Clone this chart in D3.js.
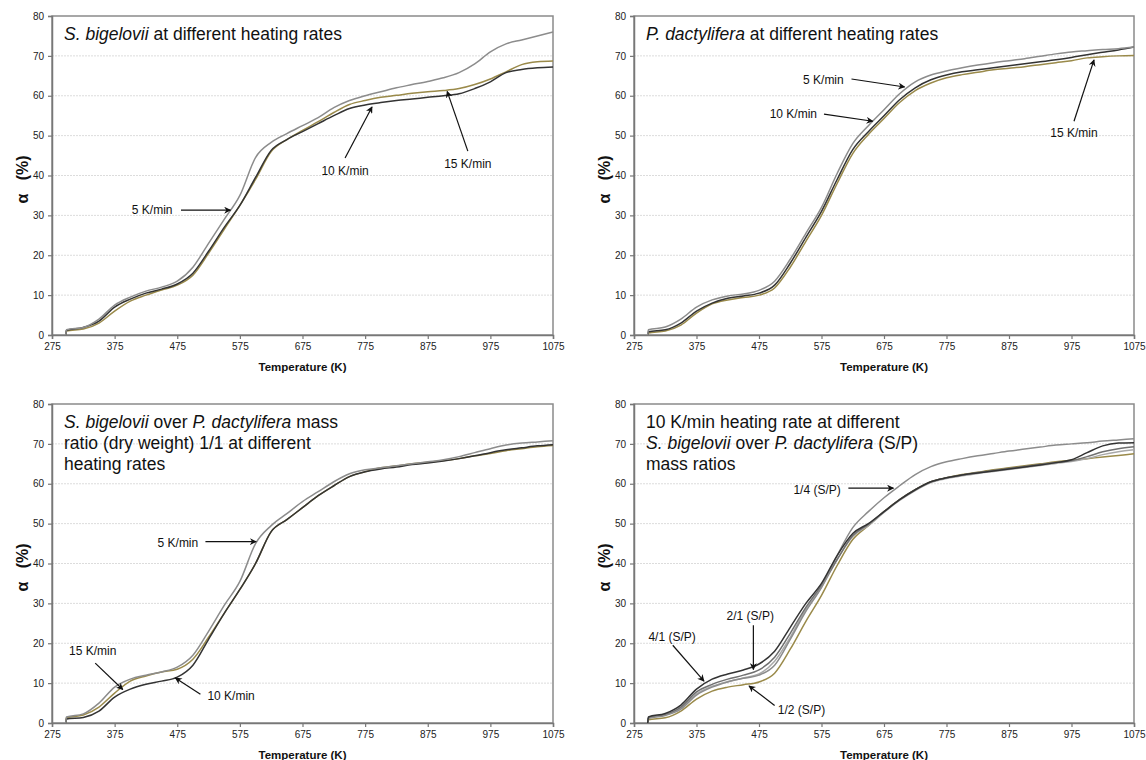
<!doctype html>
<head>
  <meta charset="utf-8">
  <script src="https://cdnjs.cloudflare.com/ajax/libs/d3/7.8.2/d3.min.js"></script>
</head>
<style>
    body { margin: 0; background: #fff; }
    svg { font-family: "Liberation Sans", Arial, sans-serif; }
</style>
<body>
<div id="chart"></div>
<script>
    // temperature grid (K) shared by all curves
    const temps = [297, 298, 325, 350, 375, 400, 425, 450, 475, 500, 525, 550, 575, 600, 625, 650, 675, 700, 725, 750, 775, 800, 825, 850, 875, 900, 925, 950, 975, 1000, 1025, 1050, 1075];
    const xTicks = [275, 375, 475, 575, 675, 775, 875, 975, 1075];
    const yTicks = [0, 10, 20, 30, 40, 50, 60, 70, 80];

    // panel 1: S. bigelovii
    const sb5 = [0, 1.3, 1.9, 4, 7.5, 9.5, 11, 12, 13.5, 17, 23, 29, 35, 44.5, 48.3, 50.5, 52.5, 54.5, 57, 58.8, 60, 61, 62, 62.8, 63.6, 64.5, 65.8, 68, 71, 73, 74, 75, 76];
    const sb10 = [0, 1.2, 1.9, 3.5, 7, 9, 10.5, 11.5, 12.8, 15.5, 21, 27, 32.5, 39.5, 46.3, 49, 51, 53, 55, 56.8, 57.7, 58.3, 58.8, 59.2, 59.6, 60, 60.5, 61.8, 63.5, 65.8, 66.6, 67, 67.2];
    const sb15 = [0, 1, 1.5, 3, 6, 8.5, 10, 11.3, 12.5, 15, 20.5, 26.5, 32.5, 39, 46, 49, 51.3, 53.5, 55.8, 57.8, 58.8, 59.6, 60.1, 60.6, 61, 61.3, 61.8, 62.8, 64.2, 66, 67.8, 68.5, 68.7];

    // panel 2: P. dactylifera
    const pd5 = [0, 1.3, 2, 4, 7, 8.8, 9.8, 10.3, 11.2, 13.5, 19, 25.5, 32, 40.5, 48, 52.5, 56.5, 60.5, 63.5, 65.2, 66.2, 67, 67.7, 68.3, 68.8, 69.3, 69.9, 70.5, 71, 71.3, 71.6, 71.8, 72.2];
    const pd10 = [0, 0.8, 1.3, 3, 6, 8, 9.2, 9.8, 10.5, 12.5, 18, 24.5, 31, 39, 46.5, 51, 55, 59, 62, 64, 65.2, 66, 66.5, 67, 67.5, 68, 68.5, 69, 69.6, 70.3, 70.9, 71.5, 72.2];
    const pd15 = [0, 0.5, 1, 2.5, 5.5, 7.8, 8.8, 9.4, 10, 11.8, 17, 23.5, 30, 38, 45.5, 50.3, 54.3, 58.3, 61.3, 63.2, 64.5, 65.3, 65.9, 66.5, 66.9, 67.3, 67.8, 68.3, 68.8, 69.5, 69.8, 70, 70.1];

    // panel 3: mix 1/1
    const mx5 = [0, 1.5, 2.3, 5, 9, 11, 12, 12.8, 14, 17, 23, 29.5, 35.5, 45, 49.5, 52.5, 55.5, 58, 60.5, 62.5, 63.5, 64, 64.5, 65, 65.5, 66, 66.8, 67.8, 68.8, 69.7, 70.2, 70.5, 70.8];
    const mx10 = [0, 1, 1.4, 3, 6.5, 8.5, 9.7, 10.5, 11.5, 14.5, 21, 27.5, 33.5, 40, 48, 51, 54, 57, 59.5, 61.8, 63, 63.7, 64.2, 64.8, 65.2, 65.7, 66.3, 67, 67.8, 68.5, 69, 69.5, 69.8];
    const mx15 = [0, 1.3, 2, 4, 7.5, 10.5, 11.8, 12.8, 13.5, 16, 21.5, 27.5, 33.5, 40, 48, 51, 54, 57, 59.5, 61.8, 63, 64, 64.5, 65, 65.4, 65.8, 66.3, 67, 67.6, 68.3, 68.8, 69.3, 69.6];

    // panel 4: 10 K/min, S/P ratios
    const r41 = [0, 1.5, 2.4, 4.5, 8.5, 11, 12.3, 13.3, 14.8, 18, 24, 30, 35, 42, 47.5, 50, 53, 56, 58.5, 60.5, 61.5, 62.2, 62.7, 63.2, 63.7, 64.2, 64.7, 65.3, 66, 67.8, 69.5, 70.2, 70.3];
    const r21 = [0, 1.3, 2.1, 4, 7.8, 9.7, 11, 12, 13.3, 16.5, 22.5, 29, 34.5, 41, 47, 49.8, 53, 56, 58.5, 60.5, 61.5, 62.2, 62.8, 63.3, 63.8, 64.3, 64.8, 65.3, 65.8, 66.8, 68, 68.8, 69.3];
    const r11 = [0, 1.2, 2, 3.8, 7.3, 9.2, 10.4, 11.3, 12.3, 15.5, 21.5, 28.5, 34, 41, 46.8, 49.5, 52.8, 55.8, 58.3, 60.3, 61.3, 62, 62.6, 63.1, 63.6, 64.1, 64.6, 65.1, 65.6, 66.3, 67.3, 68, 68.5];
    const r14 = [0, 1.2, 1.9, 3.5, 7, 9, 10.3, 11.2, 12, 14.5, 21, 28, 34, 42, 49, 53, 56.5, 59.5, 62.3, 64.3, 65.5, 66.3, 67, 67.6, 68.2, 68.7, 69.2, 69.7, 70, 70.3, 70.7, 71, 71.3];
    const r12 = [0, 0.8, 1.3, 3, 6, 8, 9, 9.6, 10.3, 12.5, 18.5, 25.5, 32, 39.5, 46, 49.5, 53, 56, 58.5, 60.5, 61.5, 62.3, 62.9, 63.5, 64, 64.5, 65, 65.5, 65.9, 66.3, 66.7, 67.1, 67.5];

    const GRAY = '#8c8c8c', BLACK = '#333', OLIVE = '#9a8a4a', MID = '#707070', LIGHT = '#a8a8a8';

    const panels = [
        {
            box: [52, 553, 16, 335],
            title: [[['S. bigelovii', true], [' at different heating rates', false]]],
            series: [[sb15, OLIVE], [sb10, BLACK], [sb5, GRAY]],
            notes: [
                {t: '5 K/min', at: [435, 31.3], from: [481, 31.3], to: [560, 31.3]},
                {t: '10 K/min', at: [743, 41.3], from: [743, 44.4], to: [786, 57.2]},
                {t: '15 K/min', at: [939, 43], from: [939, 46.1], to: [906, 61.1]}
            ]
        },
        {
            box: [634, 1134, 16, 335],
            title: [[['P. dactylifera', true], [' at different heating rates', false]]],
            series: [[pd15, OLIVE], [pd10, BLACK], [pd5, GRAY]],
            notes: [
                {t: '5 K/min', at: [578, 64], from: [623, 64.2], to: [708, 62.2]},
                {t: '10 K/min', at: [530, 55.4], from: [579, 55.4], to: [657, 53.6]},
                {t: '15 K/min', at: [979, 50.7], from: [979, 53.6], to: [1011, 69]}
            ]
        },
        {
            box: [52, 553, 404, 723],
            title: [
                [['S. bigelovii', true], [' over ', false], ['P. dactylifera', true], [' mass', false]],
                [['ratio (dry weight) 1/1 at different', false]],
                [['heating rates', false]]
            ],
            series: [[mx15, OLIVE], [mx10, BLACK], [mx5, GRAY]],
            notes: [
                {t: '5 K/min', at: [476, 45.3], from: [520, 45.5], to: [601, 45.5]},
                {t: '15 K/min', at: [340, 18], from: [344, 15], to: [388, 8.4]},
                {t: '10 K/min', at: [561, 6.7], from: [512, 7.2], to: [472, 11.3]}
            ]
        },
        {
            box: [634, 1134, 404, 723],
            title: [
                [['10 K/min heating rate at different', false]],
                [['S. bigelovii', true], [' over ', false], ['P. dactylifera', true], [' (S/P)', false]],
                [['mass ratios', false]]
            ],
            series: [[r12, OLIVE], [r11, LIGHT], [r21, MID], [r14, GRAY], [r41, BLACK]],
            notes: [
                {t: '1/4 (S/P)', at: [568, 58.5], from: [618, 58.9], to: [690, 58.9]},
                {t: '2/1 (S/P)', at: [461, 27], from: [466, 24.5], to: [466, 13.4]},
                {t: '4/1 (S/P)', at: [336, 21.5], from: [337, 19.5], to: [387, 10.5]},
                {t: '1/2 (S/P)', at: [543, 3.3], from: [500, 4.4], to: [459, 9.3]}
            ]
        }
    ];

    const svg = d3.select('#chart').append('svg')
        .attr('width', 1146)
        .attr('height', 760);

    svg.append('defs').append('marker')
        .attr('id', 'arrow')
        .attr('viewBox', '0 0 10 10')
        .attr('refX', 9).attr('refY', 5)
        .attr('markerWidth', 7).attr('markerHeight', 7)
        .attr('markerUnits', 'userSpaceOnUse')
        .attr('orient', 'auto')
        .append('path')
        .attr('d', 'M0,0 L10,5 L0,10 L3,5 Z')
        .attr('fill', '#111');

    panels.forEach((p) => {
        const [x0, x1, y0, y1] = p.box;
        const x = d3.scaleLinear().domain([275, 1075]).range([x0, x1]);
        const y = d3.scaleLinear().domain([0, 80]).range([y1, y0]);
        const g = svg.append('g');

        // gridlines
        g.selectAll('.grid')
            .data(yTicks.slice(1, -1))
            .enter().append('line')
            .attr('x1', x0).attr('x2', x1)
            .attr('y1', (d) => y(d)).attr('y2', (d) => y(d))
            .attr('stroke', '#dcdcdc')
            .attr('stroke-dasharray', '2,1');

        // frame
        g.append('rect')
            .attr('x', x0).attr('y', y0)
            .attr('width', x1 - x0).attr('height', y1 - y0)
            .attr('fill', 'none')
            .attr('stroke', '#8a8a8a')
            .attr('stroke-width', 1.5);

        // axes
        const ax = g.append('g')
            .attr('transform', `translate(0,${y1})`)
            .call(d3.axisBottom(x).tickValues(xTicks).tickFormat(d3.format('d')).tickSize(4).tickPadding(4));
        const ay = g.append('g')
            .attr('transform', `translate(${x0},0)`)
            .call(d3.axisLeft(y).tickValues(yTicks).tickFormat(d3.format('d')).tickSize(4).tickPadding(4));
        [ax, ay].forEach((a) => {
            a.select('.domain').attr('stroke', '#777').attr('stroke-width', 1.5);
            a.selectAll('.tick line').attr('stroke', '#777').attr('stroke-width', 1.2);
            a.selectAll('.tick text')
                .attr('fill', '#222')
                .style('font-size', '10px')
                .style('font-family', '"Liberation Sans", Arial, sans-serif');
        });

        // axis titles
        g.append('text')
            .attr('x', (x0 + x1) / 2).attr('y', y1 + 36)
            .attr('text-anchor', 'middle')
            .attr('font-weight', 'bold')
            .attr('font-size', 11.5)
            .attr('fill', '#111')
            .text('Temperature (K)');
        g.append('text')
            .attr('transform', `translate(${x0 - 24},${(y0 + y1) / 2 + 4}) rotate(-90)`)
            .attr('text-anchor', 'middle')
            .attr('font-weight', 'bold')
            .attr('font-size', 16)
            .attr('fill', '#111')
            .attr('xml:space', 'preserve')
            .style('white-space', 'pre')
            .text('α   (%)');

        // curves
        const line = d3.line()
            .x((d, i) => x(temps[i]))
            .y((d) => y(d))
            .curve(d3.curveMonotoneX);
        g.selectAll('.curve')
            .data(p.series)
            .enter().append('path')
            .attr('d', (s) => line(s[0]))
            .attr('fill', 'none')
            .attr('stroke', (s) => s[1])
            .attr('stroke-width', 1.5);

        // title
        p.title.forEach((row, li) => {
            const t = g.append('text')
                .attr('x', x0 + 12)
                .attr('y', y0 + 24 + li * 21)
                .attr('font-size', 17.5)
                .attr('fill', '#111')
                .attr('xml:space', 'preserve')
                .style('white-space', 'pre');
            row.forEach(([s, it]) => {
                t.append('tspan')
                    .attr('font-style', it ? 'italic' : 'normal')
                    .text(s);
            });
        });

        // annotations
        p.notes.forEach((n) => {
            g.append('text')
                .attr('x', x(n.at[0])).attr('y', y(n.at[1]))
                .attr('dy', '0.35em')
                .attr('text-anchor', 'middle')
                .attr('font-size', 12)
                .attr('fill', '#111')
                .text(n.t);
            g.append('line')
                .attr('x1', x(n.from[0])).attr('y1', y(n.from[1]))
                .attr('x2', x(n.to[0])).attr('y2', y(n.to[1]))
                .attr('stroke', '#111')
                .attr('stroke-width', 1.2)
                .attr('marker-end', 'url(#arrow)');
        });
    });
</script>
</body>
